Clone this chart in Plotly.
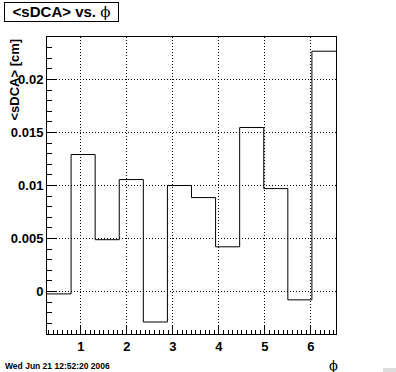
import numpy as np
import plotly.graph_objects as go

# ---- data ----
phi_centers = [np.pi / 6 * k for k in range(1, 13)]
sdca_values = [-0.00022, 0.01292, 0.00489, 0.01056, -0.00287, 0.01000,
               0.00886, 0.00422, 0.01547, 0.00971, -0.00078, 0.02266]
x_ticks = [1, 2, 3, 4, 5, 6]
y_ticks = [0, 0.005, 0.01, 0.015, 0.02]
y_ticklabels = ["0", "0.005", "0.01", "0.015", "0.02"]

# ---- geometry ----
W, H = 396, 372
L, R, T, B = 47, 60, 37, 38
PW, PH = W - L - R, H - T - B


def px(xp):
    return (xp - L) / PW


def py(yp):
    return 1 - (yp - T) / PH


bw = phi_centers[1] - phi_centers[0]
edges = [c - bw / 2 for c in phi_centers] + [phi_centers[-1] + bw / 2]
ystep = sdca_values + [sdca_values[-1]]

fig = go.Figure()
fig.add_trace(go.Scatter(
    x=edges, y=ystep, mode="lines", line=dict(shape="hv", color="black", width=1),
    showlegend=False, hoverinfo="skip"))

FAM = "Liberation Sans, Arial, sans-serif"
font_b = dict(family=FAM, color="black", weight="bold")
PHI = '<span style="font-family:DejaVu Serif;color:black">ϕ</span>'

fig.update_layout(
    width=W, height=H,
    margin=dict(l=L, r=R, t=T, b=B, pad=0),
    paper_bgcolor="white", plot_bgcolor="white",
    hovermode=False,
    xaxis=dict(
        range=[edges[0], edges[-1]], tickvals=x_ticks, ticktext=[str(v) for v in x_ticks],
        ticks="inside", ticklen=8, tickcolor="black", tickwidth=1,
        showline=True, linecolor="black", linewidth=1, mirror=True,
        showgrid=True, gridcolor="black", griddash="1px,2px", gridwidth=1,
        zeroline=False, tickfont=dict(size=13, **font_b),
        minor=dict(dtick=0.1, tick0=0, ticks="inside", ticklen=4, tickcolor="black", showgrid=False),
    ),
    yaxis=dict(
        range=[-0.004, 0.024], tickvals=y_ticks, ticktext=y_ticklabels,
        ticks="inside", ticklen=9, tickcolor="black", tickwidth=1,
        showline=True, linecolor="black", linewidth=1, mirror=True,
        showgrid=True, gridcolor="black", griddash="1px,2px", gridwidth=1,
        zeroline=False, tickfont=dict(size=13, **font_b),
        minor=dict(dtick=0.001, tick0=0, ticks="inside", ticklen=5, tickcolor="black", showgrid=False),
    ),
)

# title box
fig.add_annotation(
    xref="paper", yref="paper", x=px(4), y=py(2), xanchor="left", yanchor="top",
    text="<b>&lt;sDCA&gt; vs. </b>" + PHI, showarrow=False,
    font=dict(size=15, family=FAM, color="black"),
    bordercolor="black", borderwidth=1, borderpad=0, bgcolor="white",
    width=113, height=18, align="center")

# y axis title
fig.add_annotation(
    xref="paper", yref="paper", x=px(4), y=py(37), xanchor="left", yanchor="top",
    text="<b>&lt;sDCA&gt; [cm]</b>", textangle=-90, showarrow=False,
    font=dict(size=13, family=FAM, color="black"))

# x axis title
fig.add_annotation(
    xref="paper", yref="paper", x=px(333), y=py(365), xanchor="center", yanchor="middle",
    text=PHI, showarrow=False,
    font=dict(size=13, family=FAM, color="black"))

# date stamp
fig.add_annotation(
    xref="paper", yref="paper", x=px(3), y=py(366), xanchor="left", yanchor="middle",
    text="<b>Wed Jun 21 12:52:20 2006</b>", showarrow=False,
    font=dict(size=8.5, family=FAM, color="black"))

# corner icon
fig.add_shape(type="rect", xref="paper", yref="paper",
              x0=px(383), x1=px(396), y0=py(372), y1=py(368),
              fillcolor="#dddddd", line=dict(width=0))

fig.write_html("out.html", config={"displayModeBar": False},
               post_script="document.body.style.margin='0px';document.body.style.overflow='hidden';")
